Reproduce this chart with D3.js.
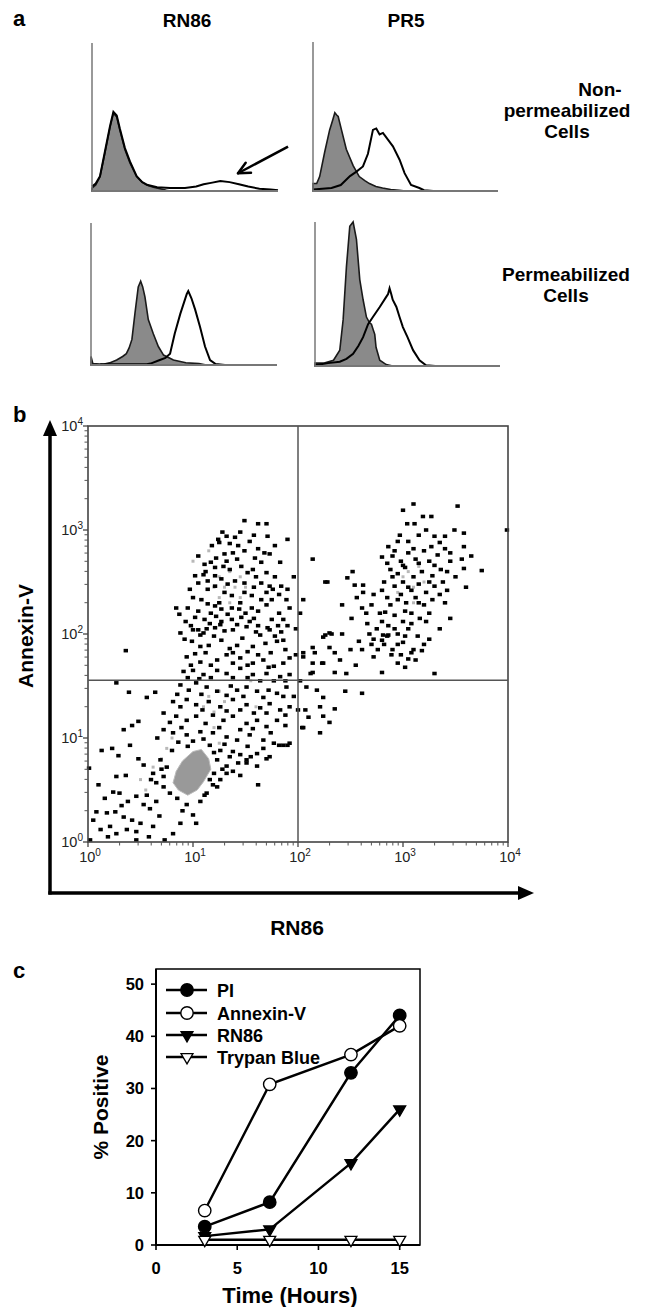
<!DOCTYPE html>
<html><head><meta charset="utf-8">
<script src="https://cdn.jsdelivr.net/npm/d3@7"></script>
<style>
body{margin:0;background:#fff}
svg text{font-family:"Liberation Sans",Arial,Helvetica,sans-serif}
</style>
</head><body>
<svg id="fig" width="645" height="1307"></svg>
<script>
// ---------------- DATA ----------------
// Panel a: histograms, [channel fraction, relative count]
const histColumns = ["RN86", "PR5"];
const histRows = [["Non-", "permeabilized", "Cells"], ["Permeabilized", "Cells"]];
const tlFill = [[0,0.02],[0.02,0.04],[0.043,0.097],[0.07,0.26],[0.097,0.43],[0.115,0.525],[0.133,0.5],[0.15,0.41],[0.177,0.28],[0.204,0.19],[0.24,0.097],[0.27,0.06],[0.294,0.04],[0.33,0.025],[0.366,0.015],[0.4,0.005],[0.42,0]];
const tlOpen = [[0,0.03],[0.02,0.05],[0.043,0.1],[0.07,0.27],[0.097,0.44],[0.115,0.535],[0.133,0.51],[0.15,0.42],[0.177,0.29],[0.204,0.2],[0.24,0.1],[0.27,0.06],[0.3,0.04],[0.35,0.025],[0.42,0.02],[0.5,0.02],[0.56,0.03],[0.6,0.045],[0.64,0.055],[0.69,0.068],[0.74,0.06],[0.79,0.045],[0.84,0.03],[0.9,0.015],[0.96,0.01],[1.0,0.005]];
const trFill = [[0,0.05],[0.02,0.05],[0.036,0.097],[0.063,0.26],[0.09,0.41],[0.105,0.47],[0.118,0.525],[0.128,0.51],[0.136,0.5],[0.154,0.41],[0.18,0.28],[0.217,0.17],[0.25,0.097],[0.28,0.07],[0.305,0.05],[0.34,0.03],[0.376,0.02],[0.42,0.01],[0.466,0.005],[0.5,0]];
const trOpen = [[0,0.01],[0.05,0.015],[0.1,0.02],[0.15,0.04],[0.2,0.1],[0.235,0.13],[0.27,0.165],[0.297,0.25],[0.324,0.41],[0.342,0.42],[0.36,0.38],[0.378,0.39],[0.39,0.37],[0.405,0.345],[0.432,0.3],[0.468,0.21],[0.495,0.12],[0.53,0.04],[0.575,0.02],[0.6,0.005],[0.65,0]];
const blFill = [[0,0.06],[0.01,0.01],[0.066,0.005],[0.1,0.015],[0.138,0.035],[0.17,0.06],[0.19,0.08],[0.205,0.12],[0.22,0.18],[0.236,0.36],[0.254,0.55],[0.267,0.59],[0.278,0.55],[0.29,0.48],[0.308,0.32],[0.335,0.22],[0.362,0.13],[0.39,0.07],[0.443,0.035],[0.51,0.016],[0.58,0.01],[0.62,0]];
const blOpen = [[0.05,0.005],[0.2,0.005],[0.3,0.005],[0.32,0.01],[0.37,0.035],[0.4,0.05],[0.425,0.08],[0.45,0.22],[0.48,0.36],[0.505,0.46],[0.515,0.5],[0.523,0.52],[0.54,0.47],[0.56,0.39],[0.586,0.27],[0.613,0.13],[0.64,0.035],[0.67,0.007],[0.72,0]];
const brFill = [[0,0.02],[0.05,0.02],[0.1,0.04],[0.134,0.11],[0.152,0.32],[0.17,0.69],[0.188,0.97],[0.206,1.0],[0.224,0.88],[0.242,0.6],[0.26,0.46],[0.278,0.34],[0.295,0.3],[0.305,0.29],[0.315,0.25],[0.323,0.22],[0.33,0.13],[0.35,0.04],[0.385,0.01],[0.42,0]];
const brOpen = [[0,0.005],[0.07,0.02],[0.134,0.03],[0.17,0.05],[0.206,0.085],[0.235,0.14],[0.26,0.2],[0.287,0.29],[0.313,0.34],[0.35,0.41],[0.385,0.48],[0.395,0.5],[0.403,0.54],[0.412,0.5],[0.42,0.46],[0.44,0.41],[0.457,0.34],[0.475,0.27],[0.5,0.2],[0.53,0.11],[0.565,0.04],[0.6,0.005],[0.65,0]];
const arrowA = [[1.054,0.30],[0.785,0.12]]; // annotation arrow in top-left histogram

// Panel b: scatter, log10 values [RN86, Annexin-V]
const bTicks = [1, 10, 100, 1000, 10000];
const bQuadX = 100, bQuadY = 36;
const bPoints = [
[1.49,3.09],[1.62,3.06],[1.70,3.06],[1.24,2.91],[1.32,2.94],[1.40,2.93],[1.25,2.88],[1.35,2.87],[1.54,2.89],[1.71,2.94],[1.90,2.91],[1.43,2.85],[1.49,2.80],[1.30,2.77],[1.38,2.78],[1.22,2.73],[1.68,2.78],[1.73,2.77],[1.59,2.73],[1.65,2.69],[1.83,2.69],[1.17,2.69],[1.21,2.64],[1.29,2.65],[1.35,2.62],[1.46,2.65],[1.52,2.59],[1.70,2.59],[1.11,2.67],[1.02,2.56],[1.10,2.57],[1.05,2.49],[1.14,2.51],[1.21,2.56],[1.27,2.53],[1.40,2.51],[1.49,2.49],[1.65,2.49],[1.73,2.46],[1.76,2.43],[1.84,2.46],[1.90,2.43],[0.97,2.43],[1.14,2.43],[1.21,2.46],[1.30,2.40],[1.37,2.37],[1.49,2.40],[1.56,2.37],[1.65,2.33],[1.75,2.33],[1.89,2.33],[1.92,2.25],[1.08,2.33],[1.14,2.29],[1.21,2.27],[1.27,2.24],[1.37,2.25],[1.44,2.24],[1.56,2.25],[1.62,2.22],[0.84,2.25],[0.95,2.25],[1.05,2.22],[0.87,2.19],[1.02,2.16],[1.11,2.14],[1.22,2.17],[1.27,2.12],[1.37,2.14],[1.46,2.16],[1.54,2.12],[1.62,2.08],[1.71,2.06],[1.81,2.08],[1.90,2.08],[0.98,2.08],[1.05,2.04],[1.10,2.01],[1.21,2.06],[1.30,2.03],[1.96,2.55],
[0.88,2.01],[1.00,2.04],[1.07,1.99],[1.13,2.05],[1.26,2.09],[1.38,2.04],[1.51,2.07],[1.64,1.99],[1.73,2.04],[1.84,2.02],[1.86,1.94],[0.99,1.93],[1.07,1.88],[1.15,1.89],[1.27,1.94],[1.35,1.86],[1.42,1.89],[1.57,1.88],[1.69,1.91],[1.80,1.93],[0.94,1.78],[1.02,1.81],[1.07,1.73],[1.23,1.75],[1.32,1.80],[1.45,1.77],[1.57,1.72],[1.67,1.75],[1.77,1.69],[1.86,1.72],[1.92,1.77],[0.91,1.64],[1.00,1.65],[1.10,1.61],[1.23,1.65],[1.32,1.62],[1.45,1.67],[1.57,1.61],[1.70,1.62],[1.83,1.59],[1.92,1.61],[0.88,1.51],[0.96,1.46],[1.03,1.53],[1.13,1.49],[1.23,1.45],[1.32,1.41],[1.42,1.46],[1.51,1.49],[1.61,1.45],[1.72,1.46],[1.80,1.43],[1.89,1.49],[0.81,1.35],[0.94,1.37],[1.03,1.32],[1.15,1.35],[1.26,1.30],[1.38,1.37],[1.51,1.32],[1.64,1.29],[1.73,1.33],[1.83,1.27],[1.92,1.30],[0.72,1.24],[0.84,1.21],[0.94,1.17],[1.03,1.21],[1.19,1.22],[1.29,1.17],[1.38,1.21],[1.51,1.14],[1.61,1.17],[1.70,1.11],[1.80,1.17],[1.88,1.12],[0.72,1.08],[0.81,1.05],[0.94,1.03],[1.07,1.06],[1.19,1.05],[1.32,1.01],[1.42,0.98],[1.54,1.03],[1.67,0.98],[1.77,0.95],[1.86,0.93],[1.92,0.95],[1.16,0.93],[1.26,0.88],[1.38,0.87],[1.45,0.84],[1.61,0.85],[1.70,0.80],[1.23,0.79],[1.32,0.73],[1.38,0.68],[1.51,0.76],[1.61,0.73],[1.16,0.60],[1.23,0.53],[1.13,0.47],[1.07,0.39],[1.03,0.18],[1.62,0.55],[0.88,0.18],[0.81,0.08],[0.73,0.02],[0.46,0.02],
[1.11,0.45],[1.19,0.55],[1.26,0.60],[1.32,0.66],[1.43,0.76],[1.51,0.79],[1.73,0.82],[1.35,0.82],
[1.05,2.75],[1.18,2.85],[1.28,2.98],[1.45,2.98],[1.58,2.95],[1.78,2.85],[1.62,2.82],[1.12,2.60],[1.32,2.70],[1.42,2.72],[1.57,2.62],[1.78,2.55],[1.60,2.55],[1.33,2.48],[1.58,2.45],[1.70,2.40],[1.82,2.38],[1.00,2.35],[1.25,2.30],[1.45,2.30],[1.70,2.28],[1.82,2.20],[1.17,2.20],[1.33,2.19],[1.50,2.20],[1.75,2.14],[1.86,2.14],[0.93,2.12],[1.16,2.10],[1.42,2.09],[1.58,2.15],[0.92,1.95],[1.20,1.98],[1.47,1.96],[1.60,2.02],[1.78,1.98],[1.12,1.82],[1.38,1.82],[1.52,1.83],[1.62,1.80],[1.74,1.82],[1.88,1.85],[0.98,1.70],[1.17,1.70],[1.38,1.72],[1.52,1.70],[1.72,1.68],[0.95,1.58],[1.06,1.57],[1.17,1.58],[1.38,1.58],[1.52,1.58],[1.64,1.55],[1.77,1.55],[1.88,1.55],[0.85,1.42],[1.08,1.42],[1.36,1.50],[1.48,1.40],[1.67,1.39],[1.86,1.40],[0.88,1.30],[1.09,1.27],[1.32,1.26],[1.45,1.27],[1.58,1.24],[1.70,1.24],[1.88,1.22],[0.78,1.15],[0.89,1.10],[1.12,1.14],[1.25,1.10],[1.45,1.08],[1.57,1.09],[1.74,1.05],[0.66,1.00],[0.86,0.96],[1.00,0.97],[1.10,0.99],[1.30,0.94],[1.52,0.92],[1.67,0.90],[0.80,0.88],[0.95,0.92],[1.20,0.86],[1.55,0.82],[1.28,0.70],[1.45,0.64],[1.20,0.66],[0.70,0.70],[0.60,0.60],[0.56,0.45],[0.85,0.42],[0.90,0.30],[0.68,0.25],[0.62,0.15],[0.58,0.05],[0.32,0.35],[0.12,0.12],[0.10,0.55],
[0.36,1.84],[0.27,1.53],[0.39,1.44],[0.56,1.39],[0.64,1.44],[0.48,1.16],[0.42,1.12],[0.34,1.08],[0.13,0.88],[0.23,0.90],[0.29,0.83],[0.48,0.80],[0.40,0.93],[0.53,0.74],[0.27,0.63],[0.36,0.64],[0.01,0.71],[0.16,0.42],[0.24,0.48],[0.30,0.47],[0.38,0.39],[0.46,0.44],[0.53,0.36],[0.59,0.32],[0.65,0.39],[0.08,0.29],[0.18,0.28],[0.26,0.29],[0.34,0.24],[0.42,0.21],[0.50,0.18],[0.21,0.15],[0.27,0.08],[0.37,0.12],[0.46,0.10],[0.19,0.05],[0.05,0.21],[0.02,0.02],[0.94,0.36],[1.00,0.26],[0.78,0.47],[0.72,0.53],[0.65,0.57],[0.69,0.79],[0.75,0.72],[0.62,0.66],[0.72,0.63],
[3.10,3.25],[3.00,3.19],[3.52,3.23],[3.99,3.00],[3.19,3.13],[3.27,3.13],[3.04,3.06],[3.11,3.06],[3.49,3.00],[3.58,2.97],[2.86,2.84],[2.95,2.89],[3.05,2.89],[3.30,2.94],[3.40,2.94],[3.58,2.84],[2.14,2.72],[2.80,2.74],[2.85,2.68],[3.56,2.72],[3.58,2.63],[3.75,2.61],[2.52,2.60],[2.28,2.50],[2.47,2.54],[2.54,2.47],[2.62,2.47],[2.62,2.40],[2.42,2.28],[2.61,2.25],[2.83,2.21],[2.51,2.15],[2.30,2.01],[2.05,2.33],[3.40,2.30],[2.26,2.50],
[2.90,2.75],[2.98,2.70],[3.05,2.78],[3.12,2.72],[3.20,2.80],[3.25,2.70],[3.33,2.76],[2.88,2.62],[2.95,2.58],[3.02,2.64],[3.10,2.55],[3.18,2.60],[3.28,2.56],[3.36,2.62],[3.45,2.70],[2.82,2.50],[2.92,2.46],[3.00,2.50],[3.08,2.42],[3.15,2.48],[3.22,2.40],[3.30,2.46],[3.38,2.50],[2.72,2.38],[2.85,2.35],[2.95,2.33],[3.03,2.30],[3.12,2.35],[3.20,2.28],[3.28,2.33],[2.70,2.28],[2.78,2.20],[2.92,2.18],[3.00,2.12],[3.08,2.20],[3.16,2.15],[3.25,2.20],[2.66,2.10],[2.75,2.05],[2.86,2.08],[2.95,2.00],[3.05,2.05],[3.14,1.98],[2.72,1.95],[2.82,1.90],[2.90,1.85],[3.00,1.92],[3.10,1.85],[3.20,1.90],[3.35,2.05],[3.45,2.15],[3.45,2.78],[3.50,2.55],
[2.97,2.95],[3.15,2.95],[3.22,3.00],[3.35,2.88],[2.92,2.80],[3.10,2.82],[3.27,2.84],[3.40,2.82],[3.00,2.66],[3.15,2.68],[3.30,2.66],[3.42,2.60],[2.90,2.55],[3.05,2.45],[3.25,2.50],[3.42,2.42],[2.80,2.42],[2.98,2.38],[3.15,2.30],[3.35,2.38],[2.88,2.28],[3.02,2.22],[3.22,2.12],[2.80,2.12],[2.92,2.05],[3.08,2.10],[2.68,2.00],[2.85,1.98],[3.02,1.98],[2.95,1.90],[3.25,1.95],[2.76,1.85],[3.12,1.75],[2.58,1.93],[2.65,2.20],[2.56,2.35],[3.60,2.45],[3.65,2.75],
[2.24,1.97],[2.32,2.00],[2.42,2.00],[2.14,1.87],[2.30,1.87],[2.35,1.82],[2.50,1.85],[2.61,1.85],[2.70,1.90],[2.80,1.94],[2.72,1.78],[2.81,1.99],[2.86,1.99],[2.89,1.80],[2.98,1.80],[3.08,1.82],[3.18,1.84],[2.95,1.72],[3.02,1.68],[3.05,1.76],[2.80,1.63],[2.46,1.62],[2.35,1.63],[2.14,1.72],[2.24,1.72],[2.14,1.63],[3.30,1.62],[2.05,1.78],[2.08,1.49],[2.18,1.46],[2.61,1.43],[2.24,1.39],[2.21,1.30],[2.07,1.27],[2.35,1.28],[2.24,1.21],[2.05,1.10],[2.21,1.05],[2.05,1.82],[2.16,1.82],[2.26,1.99],[2.23,1.72],[2.00,1.27],[1.90,0.93],[1.82,0.93],[2.04,1.10],
[1.98,1.80],[2.02,1.55],[1.96,1.40],[2.10,1.20],[2.12,1.62],[1.98,2.05],[2.02,2.20],[2.40,1.75],[2.55,1.70],[2.45,1.45],[2.30,1.15]
];
const bGrayDots = [[1.25,2.55],[1.35,2.6],[1.45,2.55],[1.5,2.45],[1.45,2.35],[1.35,2.3],[1.25,2.35],[1.2,2.45],[1.3,2.45],[1.4,2.45],[1.15,1.4],[1.25,1.45],[1.3,1.35],[1.2,1.25],[1.1,1.3],[0.75,0.9],[0.8,1.0],[0.7,0.8],[0.62,0.72],[1.25,0.95],[1.2,1.1],[3.05,2.6],[3.15,2.65],[3.2,2.5],[3.1,2.45],[3.0,2.55],[3.1,2.3],[2.95,2.4],[0.55,0.5],[0.5,0.6],[1.6,1.3],[1.55,1.55],[1.0,2.7],[1.15,2.8]];
const bBlob = [[1.0,0.87],[1.08,0.89],[1.15,0.8],[1.17,0.7],[1.1,0.58],[1.04,0.5],[0.95,0.45],[0.86,0.5],[0.81,0.57],[0.84,0.68],[0.9,0.78]];

// Panel c: time course
const hours = [3, 7, 12, 15];
const piVals = [3.5, 8.2, 33, 44];
const annexinVals = [6.6, 30.8, 36.5, 42];
const rn86Vals = [1.7, 3.0, 15.7, 26];
const trypanVals = [1.0, 1.0, 1.0, 1.0];
const seriesNames = ["PI", "Annexin-V", "RN86", "Trypan Blue"];
const cXTicks = [0, 5, 10, 15];
const cYTicks = [0, 10, 20, 30, 40, 50];

// ---------------- DRAW ----------------
const svg = d3.select("#fig");
const bold = "bold";

// ===== Panel a =====
svg.append("text").attr("x", 13).attr("y", 26).attr("font-size", 22).attr("font-weight", bold).text("a");
const hists = [
  {fill: tlFill, open: tlOpen, x0: 92, x1: 278, yb: 191, yt: 43},
  {fill: trFill, open: trOpen, x0: 313, x1: 498, yb: 191, yt: 42},
  {fill: blFill, open: blOpen, x0: 91, x1: 277, yb: 365, yt: 223},
  {fill: brFill, open: brOpen, x0: 315, x1: 500, yb: 366, yt: 222}
];
hists.forEach((h, i) => {
  const x = d3.scaleLinear().domain([0, 1]).range([h.x0, h.x1]);
  const y = d3.scaleLinear().domain([0, 1]).range([h.yb, h.yt]);
  const g = svg.append("g");
  g.append("path").datum(h.fill)
    .attr("d", d3.area().x(d => x(d[0])).y0(y(0)).y1(d => y(d[1])))
    .attr("fill", "#8a8a8a").attr("stroke", "#1a1a1a").attr("stroke-width", 1.6);
  g.append("path").datum(h.open)
    .attr("d", d3.line().x(d => x(d[0])).y(d => y(d[1])))
    .attr("fill", "none").attr("stroke", "#000").attr("stroke-width", 2);
  g.append("line").attr("x1", x(0)).attr("x2", x(0)).attr("y1", y(0)).attr("y2", y(1))
    .attr("stroke", "#777").attr("stroke-width", 1.5);
  g.append("line").attr("x1", x(0)).attr("x2", x(1)).attr("y1", y(0)).attr("y2", y(0))
    .attr("stroke", "#777").attr("stroke-width", 2);
  if (i === 0) {
    const p0 = [x(arrowA[0][0]), y(arrowA[0][1])], p1 = [x(arrowA[1][0]), y(arrowA[1][1])];
    g.append("line").attr("x1", p0[0]).attr("y1", p0[1]).attr("x2", p1[0]).attr("y2", p1[1])
      .attr("stroke", "#000").attr("stroke-width", 2.5);
    const ang = Math.atan2(p0[1] - p1[1], p0[0] - p1[0]);
    const L = 13;
    [0.45, -0.45].forEach(da => {
      g.append("line").attr("x1", p1[0]).attr("y1", p1[1])
        .attr("x2", p1[0] + L * Math.cos(ang + da)).attr("y2", p1[1] + L * Math.sin(ang + da))
        .attr("stroke", "#000").attr("stroke-width", 2.5).attr("stroke-linecap", "round");
    });
  }
});
svg.append("text").attr("x", 187).attr("y", 27).attr("text-anchor", "middle").attr("font-size", 19).attr("font-weight", bold).text(histColumns[0]);
svg.append("text").attr("x", 406).attr("y", 27).attr("text-anchor", "middle").attr("font-size", 19).attr("font-weight", bold).text(histColumns[1]);
const rowLabels = [
  {lines: histRows[0], xs: [600, 567, 567], ys: [96, 117, 138]},
  {lines: histRows[1], xs: [566, 566], ys: [281, 302]}
];
rowLabels.forEach(r => r.lines.forEach((t, k) => {
  svg.append("text").attr("x", r.xs[k]).attr("y", r.ys[k]).attr("text-anchor", "middle")
    .attr("font-size", 19).attr("font-weight", bold).text(t);
}));

// ===== Panel b =====
svg.append("text").attr("x", 13).attr("y", 422).attr("font-size", 22).attr("font-weight", bold).text("b");
const bx = d3.scaleLog().domain([1, 1e4]).range([88, 508]);
const by = d3.scaleLog().domain([1, 1e4]).range([842, 426]);
const gb = svg.append("g");
gb.append("path").datum(bBlob)
  .attr("d", d3.line().x(d => bx(Math.pow(10, d[0]))).y(d => by(Math.pow(10, d[1]))).curve(d3.curveLinearClosed))
  .attr("fill", "#999").attr("stroke", "#bbb").attr("stroke-width", 1);
gb.selectAll("rect.gd").data(bGrayDots).join("rect").attr("class", "gd")
  .attr("x", d => bx(Math.pow(10, d[0])) - 1.5).attr("y", d => by(Math.pow(10, d[1])) - 1.5)
  .attr("width", 3).attr("height", 3).attr("fill", "#b8b8b8");
gb.selectAll("rect.pt").data(bPoints).join("rect").attr("class", "pt")
  .attr("x", d => bx(Math.pow(10, d[0])) - 2.2).attr("y", d => by(Math.pow(10, d[1])) - 1.8)
  .attr("width", 4.4).attr("height", 3.6).attr("fill", "#000");
gb.append("rect").attr("x", bx(1)).attr("y", by(1e4)).attr("width", bx(1e4) - bx(1)).attr("height", by(1) - by(1e4))
  .attr("fill", "none").attr("stroke", "#444").attr("stroke-width", 1.6);
gb.append("line").attr("x1", bx(bQuadX)).attr("x2", bx(bQuadX)).attr("y1", by(1)).attr("y2", by(1e4))
  .attr("stroke", "#555").attr("stroke-width", 1.5);
gb.append("line").attr("x1", bx(1)).attr("x2", bx(1e4)).attr("y1", by(bQuadY)).attr("y2", by(bQuadY))
  .attr("stroke", "#555").attr("stroke-width", 1.5);
const minor = [];
for (let e = 0; e < 4; e++) for (let m = 2; m <= 9; m++) minor.push(m * Math.pow(10, e));
minor.forEach(v => {
  gb.append("line").attr("x1", bx(1) - 3.5).attr("x2", bx(1)).attr("y1", by(v)).attr("y2", by(v)).attr("stroke", "#555").attr("stroke-width", 1);
  gb.append("line").attr("x1", bx(v)).attr("x2", bx(v)).attr("y1", by(1)).attr("y2", by(1) + 3.5).attr("stroke", "#555").attr("stroke-width", 1);
});
bTicks.forEach((v, k) => {
  gb.append("line").attr("x1", bx(1) - 5).attr("x2", bx(1)).attr("y1", by(v)).attr("y2", by(v)).attr("stroke", "#444").attr("stroke-width", 1.3);
  gb.append("line").attr("x1", bx(v)).attr("x2", bx(v)).attr("y1", by(1)).attr("y2", by(1) + 5).attr("stroke", "#444").attr("stroke-width", 1.3);
  const ty = gb.append("text").attr("x", bx(1) - 5).attr("y", by(v) + 5).attr("text-anchor", "end").attr("font-size", 14.5).attr("fill", "#222");
  ty.append("tspan").text("10");
  ty.append("tspan").attr("dy", -6).attr("font-size", 10).text(String(k));
  const tx = gb.append("text").attr("x", bx(v) + 2).attr("y", by(1) + 20).attr("text-anchor", "middle").attr("font-size", 14.5).attr("fill", "#222");
  tx.append("tspan").text("10");
  tx.append("tspan").attr("dy", -6).attr("font-size", 10).text(String(k));
});
gb.append("line").attr("x1", 50).attr("x2", 50).attr("y1", 894.5).attr("y2", 432).attr("stroke", "#000").attr("stroke-width", 3.5);
gb.append("path").attr("d", "M50,420 L43,436 L57,436 Z").attr("fill", "#000");
gb.append("line").attr("x1", 48.3).attr("x2", 522).attr("y1", 893).attr("y2", 893).attr("stroke", "#000").attr("stroke-width", 3.5);
gb.append("path").attr("d", "M534,893 L518,886 L518,900 Z").attr("fill", "#000");
svg.append("text").attr("transform", "translate(33,636) rotate(-90)").attr("text-anchor", "middle")
  .attr("font-size", 21).attr("font-weight", bold).text("Annexin-V");
svg.append("text").attr("x", 297).attr("y", 935).attr("text-anchor", "middle")
  .attr("font-size", 21).attr("font-weight", bold).text("RN86");

// ===== Panel c =====
svg.append("text").attr("x", 13).attr("y", 978).attr("font-size", 22).attr("font-weight", bold).text("c");
const cx = d3.scaleLinear().domain([0, 16.25]).range([156, 420]);
const cy = d3.scaleLinear().domain([0, 52.9]).range([1245, 969]);
const gc = svg.append("g");
gc.append("rect").attr("x", cx(0)).attr("y", cy(52.9)).attr("width", cx(16.25) - cx(0)).attr("height", cy(0) - cy(52.9))
  .attr("fill", "none").attr("stroke", "#000").attr("stroke-width", 1.5);
gc.append("line").attr("x1", cx(0)).attr("x2", cx(0)).attr("y1", cy(0) + 1).attr("y2", cy(52.9)).attr("stroke", "#000").attr("stroke-width", 2);
gc.append("line").attr("x1", cx(0) - 1).attr("x2", cx(16.25)).attr("y1", cy(0)).attr("y2", cy(0)).attr("stroke", "#000").attr("stroke-width", 2);
cYTicks.forEach(v => {
  gc.append("line").attr("x1", cx(0) - 5).attr("x2", cx(0)).attr("y1", cy(v)).attr("y2", cy(v)).attr("stroke", "#000").attr("stroke-width", 1.6);
  gc.append("text").attr("x", cx(0) - 12).attr("y", cy(v) + 6).attr("text-anchor", "end")
    .attr("font-size", 16.5).attr("font-weight", bold).text(v);
});
cXTicks.forEach(v => {
  gc.append("line").attr("x1", cx(v)).attr("x2", cx(v)).attr("y1", cy(0)).attr("y2", cy(0) + 5).attr("stroke", "#000").attr("stroke-width", 1.6);
  gc.append("text").attr("x", cx(v)).attr("y", cy(0) + 29).attr("text-anchor", "middle")
    .attr("font-size", 16.5).attr("font-weight", bold).text(v);
});
const series = [
  {vals: piVals, kind: "circle", fill: "#000"},
  {vals: annexinVals, kind: "circle", fill: "#fff"},
  {vals: rn86Vals, kind: "tri", fill: "#000"},
  {vals: trypanVals, kind: "tri", fill: "#fff"}
];
const lineGen = d3.line().x(d => cx(d[0])).y(d => cy(d[1]));
const triPath = d3.symbol().type(d3.symbolTriangle).size(62);
function marker(g, kind, fill, px, py) {
  if (kind === "circle") {
    g.append("circle").attr("cx", px).attr("cy", py).attr("r", 6.2).attr("fill", fill).attr("stroke", "#000").attr("stroke-width", 1.4);
  } else {
    g.append("path").attr("d", triPath()).attr("transform", `translate(${px},${py}) rotate(180)`)
      .attr("fill", fill).attr("stroke", "#000").attr("stroke-width", 1.3);
  }
}
series.forEach(s => {
  const pts = hours.map((h, i) => [h, s.vals[i]]);
  gc.append("path").datum(pts).attr("d", lineGen).attr("fill", "none").attr("stroke", "#000").attr("stroke-width", 2.4);
});
series.forEach(s => {
  hours.forEach((h, i) => marker(gc, s.kind, s.fill, cx(h), cy(s.vals[i])));
});
const legY = [990, 1013, 1035, 1057];
seriesNames.forEach((name, i) => {
  gc.append("line").attr("x1", 166).attr("x2", 207).attr("y1", legY[i]).attr("y2", legY[i]).attr("stroke", "#000").attr("stroke-width", 2.4);
  marker(gc, series[i].kind, series[i].fill, 187, legY[i]);
  gc.append("text").attr("x", 217).attr("y", legY[i] + 6.5).attr("font-size", 18).attr("font-weight", bold).text(name);
});
svg.append("text").attr("transform", "translate(108,1107) rotate(-90)").attr("text-anchor", "middle")
  .attr("font-size", 21).attr("font-weight", bold).text("% Positive");
svg.append("text").attr("x", 290).attr("y", 1303).attr("text-anchor", "middle")
  .attr("font-size", 22).attr("font-weight", bold).text("Time (Hours)");
</script>
</body></html>
